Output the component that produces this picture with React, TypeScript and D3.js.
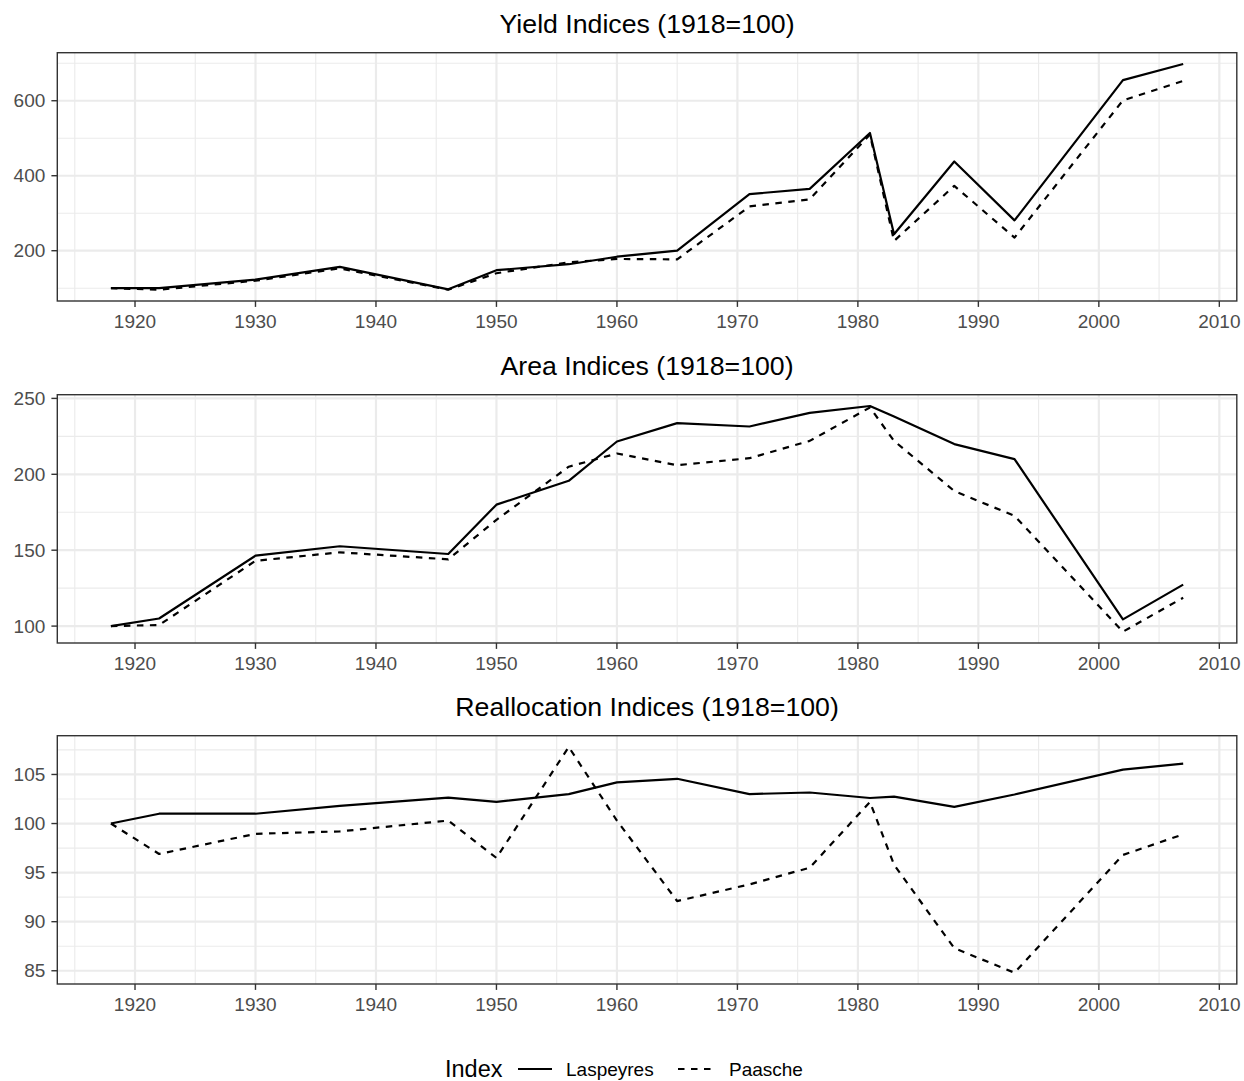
import React from "react";
import * as d3 from "d3";

const years = [1918, 1922, 1930, 1937, 1946, 1950, 1956, 1960, 1965, 1971, 1976, 1981, 1983, 1988, 1993, 2002, 2007];

const yieldLaspeyres = [100, 100, 123, 157, 97, 148, 164, 184, 200, 351, 365, 514, 244, 438, 281, 655, 698];
const yieldPaasche = [100, 96, 120, 153, 96, 140, 169, 178, 177, 318, 337, 510, 226, 373, 235, 601, 653];

const areaLaspeyres = [100, 105, 146.4, 152.6, 147.5, 180, 195.7, 221.6, 233.7, 231.5, 240.5, 245, 238, 219.9, 210, 104.4, 127.3];
const areaPaasche = [100, 100.7, 143, 148.6, 144, 170, 205, 213.7, 206, 210.6, 222, 244, 222, 189, 172.6, 96.3, 118.7];

const reallocLaspeyres = [100, 101, 101, 101.8, 102.65, 102.2, 103, 104.2, 104.56, 103, 103.16, 102.6, 102.75, 101.7, 102.96, 105.5, 106.1];
const reallocPaasche = [100, 96.9, 98.95, 99.2, 100.3, 96.5, 107.8, 100.3, 92.1, 93.8, 95.5, 102.2, 95.8, 87.3, 84.8, 96.8, 98.9];

const xMajorTicks = [1920, 1930, 1940, 1950, 1960, 1970, 1980, 1990, 2000, 2010];
const xMinorTicks = [1915, 1925, 1935, 1945, 1955, 1965, 1975, 1985, 1995, 2005];

const panels = [
  { title: "Yield Indices (1918=100)", L: yieldLaspeyres, P: yieldPaasche, major: [200, 400, 600], minor: [100, 300, 500, 700] },
  { title: "Area Indices (1918=100)", L: areaLaspeyres, P: areaPaasche, major: [100, 150, 200, 250], minor: [125, 175, 225] },
  { title: "Reallocation Indices (1918=100)", L: reallocLaspeyres, P: reallocPaasche, major: [85, 90, 95, 100, 105], minor: [87.5, 92.5, 97.5, 102.5, 107.5] },
];

const seriesNames = ["Laspeyres", "Paasche"];

const W = 1244;
const H = 1081;
const panelLeft = 57.3;
const panelRight = 1236.8;
const panelTops = [52.7, 394.7, 735.7];
const panelH = 248.3;
const FONT = "'Liberation Sans', Arial, Helvetica, sans-serif";

function expand(ext: [number, number]): [number, number] {
  const r = ext[1] - ext[0];
  return [ext[0] - r * 0.05, ext[1] + r * 0.05];
}

export default function App() {
  const x = d3.scaleLinear().domain(expand(d3.extent(years) as [number, number])).range([panelLeft, panelRight]);

  return (
    <svg width={W} height={H} style={{ position: "absolute", left: 0, top: 0, background: "#fff" }} fontFamily={FONT}>
      <rect x={0} y={0} width={W} height={H} fill="#fff" />
      {panels.map((p, i) => {
        const top = panelTops[i];
        const bottom = top + panelH;
        const all = [...p.L, ...p.P];
        const y = d3.scaleLinear().domain(expand(d3.extent(all) as [number, number])).range([bottom, top]);
        const line = d3.line<number>().x((_, j) => x(years[j])).y((v) => y(v));
        return (
          <g key={i}>
            <text x={(panelLeft + panelRight) / 2} y={top - 19.5} textAnchor="middle" fontSize={26.7} fill="#000">
              {p.title}
            </text>
            {xMinorTicks.map((t) => (
              <line key={"xm" + t} x1={x(t)} x2={x(t)} y1={top} y2={bottom} stroke="#EBEBEB" strokeWidth={1.15} />
            ))}
            {p.minor.map((t) => (
              <line key={"ym" + t} x1={panelLeft} x2={panelRight} y1={y(t)} y2={y(t)} stroke="#EBEBEB" strokeWidth={1.15} />
            ))}
            {xMajorTicks.map((t) => (
              <line key={"xM" + t} x1={x(t)} x2={x(t)} y1={top} y2={bottom} stroke="#EBEBEB" strokeWidth={2.2} />
            ))}
            {p.major.map((t) => (
              <line key={"yM" + t} x1={panelLeft} x2={panelRight} y1={y(t)} y2={y(t)} stroke="#EBEBEB" strokeWidth={2.2} />
            ))}
            <path d={line(p.L) || ""} fill="none" stroke="#000" strokeWidth={2.2} strokeLinejoin="round" />
            <path d={line(p.P) || ""} fill="none" stroke="#000" strokeWidth={2.2} strokeDasharray="6.5,6.5" strokeLinejoin="round" />
            <rect x={panelLeft} y={top} width={panelRight - panelLeft} height={panelH} fill="none" stroke="#333333" strokeWidth={1.4} />
            {p.major.map((t) => (
              <g key={"yt" + t}>
                <line x1={panelLeft - 5.9} x2={panelLeft} y1={y(t)} y2={y(t)} stroke="#333333" strokeWidth={1.4} />
                <text x={panelLeft - 12} y={y(t)} dy="0.35em" textAnchor="end" fontSize={19} fill="#4D4D4D">
                  {t}
                </text>
              </g>
            ))}
            {xMajorTicks.map((t) => (
              <g key={"xt" + t}>
                <line x1={x(t)} x2={x(t)} y1={bottom} y2={bottom + 5.9} stroke="#333333" strokeWidth={1.4} />
                <text x={x(t)} y={bottom + 27} textAnchor="middle" fontSize={19} fill="#4D4D4D">
                  {t}
                </text>
              </g>
            ))}
          </g>
        );
      })}
      <g>
        <text x={445} y={1076.5} fontSize={23.5} fill="#000">Index</text>
        <line x1={518} x2={552} y1={1069} y2={1069} stroke="#000" strokeWidth={2.2} />
        <text x={566} y={1069} dy="0.35em" fontSize={19} fill="#000">{seriesNames[0]}</text>
        <line x1={678} x2={712} y1={1069} y2={1069} stroke="#000" strokeWidth={2.2} strokeDasharray="6.5,6.5" />
        <text x={729} y={1069} dy="0.35em" fontSize={19} fill="#000">{seriesNames[1]}</text>
      </g>
    </svg>
  );
}
